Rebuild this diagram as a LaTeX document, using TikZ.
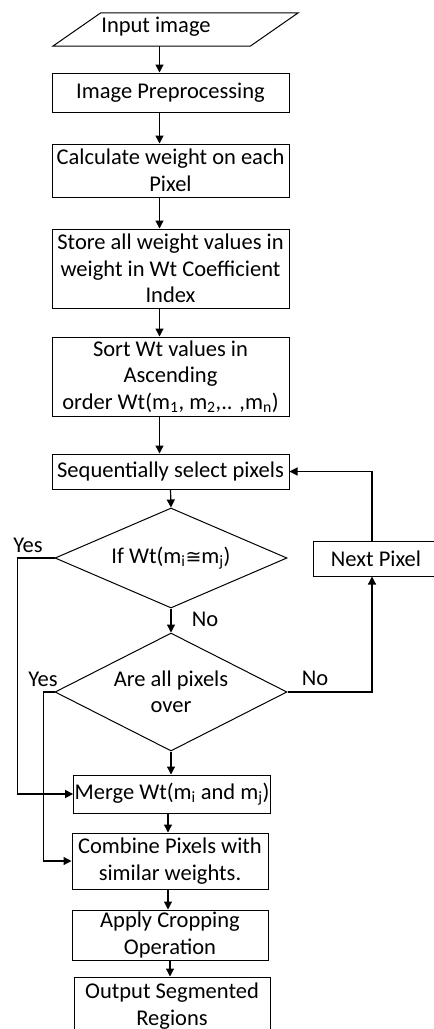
\documentclass[tikz,border=0pt]{standalone}
\usepackage{fontspec}
\setmainfont{Carlito}
\newfontfamily\symfont{DejaVu Sans}
\usetikzlibrary{shapes.geometric,arrows.meta}
\newcommand\flowfont{\fontsize{22.5}{26.5}\selectfont}

\begin{document}
\begin{tikzpicture}[x=1pt, y=-1pt,
		box/.style={draw, line width=1pt, align=center, inner sep=1pt, font=\flowfont},
		choice/.style={draw, diamond, aspect=2, inner sep=0pt, line width=1pt, align=center, font=\flowfont},
		arr/.style={-{Triangle[length=8pt,width=8pt]}, line width=1.2pt},
		lbl/.style={font=\flowfont}]
			\clip (0,0) rectangle (434,1029);
			% input
			\node[minimum width=197, minimum height=33, inner sep=0pt] (in) at (175.5,29.5) {};
			\draw[line width=1pt] ([xshift=24]in.north west) -- ([xshift=24]in.north east) -- ([xshift=-24]in.south east) -- ([xshift=-24]in.south west) -- cycle;
			\node[font=\flowfont] (intext) at (156,27) {Input image};
			% main column
			\node[box, minimum width=237, minimum height=39] (prep) at (170.5,92.5) {Image Preprocessing};
			\node[box, minimum width=237, minimum height=53] (calc) at (170.5,170.5) {Calculate weight on each\\Pixel};
			\node[box, minimum width=237, minimum height=79] (store) at (170.5,268.5) {Store all weight values in\\weight in Wt Coefficient\\Index};
			\node[box, minimum width=237, minimum height=79] (sort) at (170.5,376.5) {Sort Wt values in\\Ascending\\order Wt(m\textsubscript{1}, m\textsubscript{2},.. ,m\textsubscript{n})};
			\node[box, minimum width=237, minimum height=35] (seq) at (170.5,471.5) {Sequentially select pixels};
			\node[choice, minimum width=232, minimum height=100] (d1) at (171,558) {If Wt(m\textsubscript{i}{\symfont\fontsize{19}{22}\selectfont ≅}m\textsubscript{j})};
			\node[choice, minimum width=232, minimum height=118] (d2) at (171,692) {Are all pixels\\over};
			\node[box, minimum width=126, minimum height=35] (next) at (376,558.5) {Next Pixel};
			\node[box, minimum width=196, minimum height=38] (merge) at (172,794) {Merge Wt(m\textsubscript{i} and m\textsubscript{j})};
			\node[box, minimum width=196, minimum height=56] (comb) at (170,861) {Combine Pixels with\\similar weights.};
			\node[box, minimum width=196, minimum height=50] (crop) at (170,935) {Apply Cropping\\Operation};
			\node[box, minimum width=196, minimum height=58] (out) at (172,1006) {Output Segmented\\Regions};
			% arrows
			\draw[arr] ([xshift=-16]in.south) -- ([xshift=-11]prep.north);
			\draw[arr] ([xshift=-11]prep.south) -- ([xshift=-11]calc.north);
			\draw[arr] ([xshift=-11]calc.south) -- ([xshift=-11]store.north);
			\draw[arr] ([xshift=-11]store.south) -- ([xshift=-11]sort.north);
			\draw[arr] ([xshift=-11]sort.south) -- ([xshift=-11]seq.north);
			\draw[arr] (seq.south) -- (d1.north);
			\draw[arr] (d1.south) -- (d2.north);
			\draw[arr] (d2.south) -- (d2.south |- merge.north);
			\draw[arr] ([xshift=-4]merge.south) -- ([xshift=-4]merge.south |- comb.north);
			\draw[arr] ([xshift=-2]comb.south) -- ([xshift=-2]crop.north);
			\draw[arr] (crop.south) -- (crop.south |- out.north);
			\draw[arr] (d1.west) -- ++(-37,0) |- (merge.west);
			\draw[arr] (d2.west) -- ++(-11,0) |- (comb.west);
			\draw[arr] (d2.east) -| ([xshift=-4]next.south);
			\draw[arr] ([xshift=-4]next.north) |- (seq.east);
			% labels
			\node[lbl] (yes1) at (28,545) {Yes};
			\node[lbl] (no1) at (205,619) {No};
			\node[lbl] (yes2) at (43,679) {Yes};
			\node[lbl] (no2) at (315,678) {No};
		\end{tikzpicture}
\end{document}
